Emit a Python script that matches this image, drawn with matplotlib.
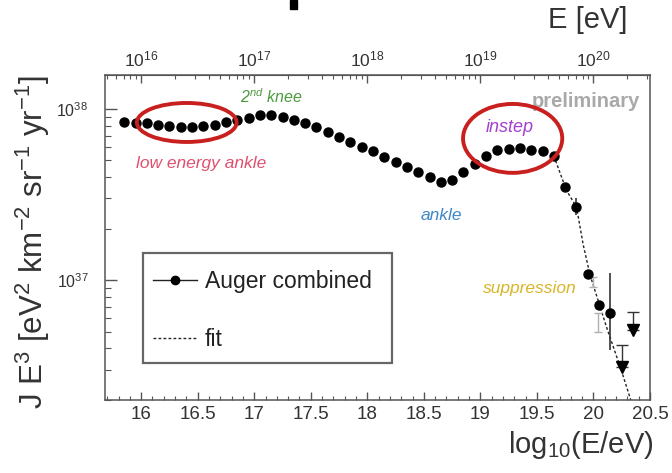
import matplotlib
matplotlib.use("Agg")
import matplotlib.pyplot as plt
import numpy as np
from matplotlib.lines import Line2D
from matplotlib.patches import Ellipse, Rectangle
from matplotlib.ticker import FixedLocator, MultipleLocator, NullFormatter

plt.rcParams['font.family'] = ['Liberation Sans', 'DejaVu Sans']
plt.rcParams['mathtext.fontset'] = 'custom'
plt.rcParams['mathtext.rm'] = 'Liberation Sans'
plt.rcParams['mathtext.it'] = 'Liberation Sans:italic'
plt.rcParams['mathtext.bf'] = 'Liberation Sans:bold'

# Auger combined spectrum: log10(E/eV) and J*E^3 [eV^2 km^-2 sr^-1 yr^-1]
log_e = [15.85, 15.95, 16.05, 16.15, 16.25, 16.35, 16.45, 16.55, 16.65, 16.75,
         16.85, 16.95, 17.05, 17.15, 17.25, 17.35, 17.45, 17.55, 17.65, 17.75,
         17.85, 17.95, 18.05, 18.15, 18.25, 18.35, 18.45, 18.55, 18.65, 18.75,
         18.85, 18.95, 19.05, 19.15, 19.25, 19.35, 19.45, 19.55, 19.65, 19.75,
         19.85, 19.95, 20.05, 20.15]
flux = [8.44e37, 8.32e37, 8.25e37, 8.06e37, 7.96e37, 7.82e37, 7.82e37, 7.96e37, 8.06e37, 8.44e37,
        8.62e37, 8.83e37, 9.23e37, 9.23e37, 8.94e37, 8.62e37, 8.25e37, 7.82e37, 7.31e37, 6.89e37,
        6.44e37, 6.02e37, 5.71e37, 5.22e37, 4.92e37, 4.56e37, 4.30e37, 3.99e37, 3.76e37, 3.85e37,
        4.30e37, 4.76e37, 5.31e37, 5.75e37, 5.81e37, 5.89e37, 5.75e37, 5.71e37, 5.31e37, 3.52e37,
        2.69e37, 1.09e37, 7.15e36, 6.38e36]

# tail points with visible error bars
err_e = [19.85, 20.15]
err_val = [2.69e37, 6.38e36]
err_lo = [2.40e37, 3.90e36]
err_hi = [3.02e37, 1.10e37]

# upper limits
lim_e = [20.25, 20.35]
lim_val = [3.11e36, 5.11e36]
lim_top = [4.17e36, 6.53e36]

# faint grey bars next to the suppression
grey_e = [20.00, 20.04]
grey_lo = [9.1e36, 4.97e36]
grey_hi = [1.04e37, 6.41e36]

# fit curve
fit_e = [19.65, 19.76, 19.85, 19.91, 19.97, 20.04, 20.11, 20.17, 20.24, 20.33]
fit_val = [5.31e37, 3.36e37, 2.67e37, 1.60e37, 1.07e37, 7.64e36, 5.45e36, 4.17e36, 3.06e36, 1.99e36]

top_ticks = [16, 17, 18, 19, 20]
top_labels = ['$10^{16}$', '$10^{17}$', '$10^{18}$', '$10^{19}$', '$10^{20}$']

fig = plt.figure(figsize=(6.72, 4.73), dpi=100)
ax = fig.add_axes([0.15625, 0.1543, 0.8110, 0.6871])

frame = '#555555'
txt = '#333333'

ax.plot(fit_e, fit_val, color='#222222', lw=1.0, ls=(0, (2, 1.6)), zorder=2)

val = np.array(err_val)
ax.errorbar(err_e, err_val, yerr=[val - np.array(err_lo), np.array(err_hi) - val],
            fmt='none', ecolor='#333333', elinewidth=1.2, zorder=3)
gl = np.array(grey_lo)
gh = np.array(grey_hi)
ax.errorbar(grey_e, (gl + gh) / 2, yerr=(gh - gl) / 2, fmt='none', ecolor='#b0b0b0',
            elinewidth=1.0, capsize=3, zorder=2)
lv = np.array(lim_val)
ax.errorbar(lim_e, lim_val, yerr=[np.zeros(2), np.array(lim_top) - lv], fmt='none',
            ecolor='#333333', elinewidth=1.0, capsize=4, zorder=3)
ax.plot(lim_e, lim_val, 'v', color='black', ms=9, zorder=4)
ax.plot(log_e, flux, 'o', color='black', ms=6.5, zorder=4)

ax.set_yscale('log')
ax.set_xlim(15.68, 20.5)
ax.set_ylim(1.99e36, 1.58e38)

ax.xaxis.set_minor_locator(MultipleLocator(0.1))
ax.set_xticks([16, 16.5, 17, 17.5, 18, 18.5, 19, 19.5, 20, 20.5])
ax.set_xticklabels(['16', '16.5', '17', '17.5', '18', '18.5', '19', '19.5', '20', '20.5'])
ax.set_yticks([1e37, 1e38])
ax.set_yticklabels(['$10^{37}$', '$10^{38}$'])
ax.yaxis.set_minor_formatter(NullFormatter())

ax.tick_params(axis='x', which='major', direction='in', length=6, width=1, color=frame,
               labelsize=13.5, labelcolor=txt, pad=4, top=False)
ax.tick_params(axis='x', which='minor', direction='in', length=3, width=0.8, color=frame, top=False)
ax.tick_params(axis='y', which='major', direction='in', length=8.5, width=1, color=frame,
               labelsize=11.5, labelcolor=txt, pad=12, right=False)
ax.tick_params(axis='y', which='minor', direction='in', length=4.3, width=0.8, color=frame, right=False)
for s in ax.spines.values():
    s.set_color(frame)
    s.set_linewidth(1.1)

top = ax.secondary_xaxis('top')
top.set_xticks(top_ticks)
top.set_xticklabels(top_labels)
minor_top = [np.log10(k) + n for n in range(15, 21) for k in range(2, 10)
             if 15.68 < np.log10(k) + n < 20.5]
top.xaxis.set_minor_locator(FixedLocator(minor_top))
top.tick_params(which='major', direction='in', length=6, width=1, color=frame,
                labelsize=12.5, labelcolor=txt, pad=4)
top.tick_params(which='minor', direction='in', length=3, width=0.8, color=frame)
top.spines['top'].set_color(frame)

fig.text(628 / 672, 1 - 20 / 473, 'E [eV]', fontsize=21, color=txt, ha='right', va='center')
fig.text(653 / 672, 1 - 445 / 473, 'log$_{10}$(E/eV)', fontsize=21, color=txt, ha='right', va='center')
fig.text(33 / 672, 1 - 242 / 473, 'J E$^{3}$ [eV$^{2}$ km$^{-2}$ sr$^{-1}$ yr$^{-1}$]',
         fontsize=22.5, color=txt, rotation=90, ha='center', va='center')

# cropped title remnant at the top edge
fig.patches.append(Rectangle((290 / 672, 1 - 9 / 473), 7 / 672, 9 / 473,
                             transform=fig.transFigure, color='black'))

ax.text(0.306, 0.932, '2$^{nd}$ knee', transform=ax.transAxes, fontsize=11.5,
        style='italic', color='#4d9a3f', ha='center', va='center')
ax.text(0.176, 0.729, 'low energy ankle', transform=ax.transAxes, fontsize=12.5,
        style='italic', color='#e0506e', ha='center', va='center')
ax.text(0.617, 0.569, 'ankle', transform=ax.transAxes, fontsize=12.5,
        style='italic', color='#3f86c6', ha='center', va='center')
ax.text(0.743, 0.840, 'instep', transform=ax.transAxes, fontsize=13,
        style='italic', color='#a43fd0', ha='center', va='center')
ax.text(0.780, 0.342, 'suppression', transform=ax.transAxes, fontsize=12.5,
        style='italic', color='#d9b52a', ha='center', va='center')
ax.text(0.982, 0.920, 'preliminary', transform=ax.transAxes, fontsize=14.5,
        fontweight='bold', color='#a9a9a9', ha='right', va='center')

ax.add_patch(Ellipse((0.150, 0.854), 0.183, 0.120, transform=ax.transAxes,
                     fill=False, edgecolor='#c8201e', lw=2.8, zorder=5))
ax.add_patch(Ellipse((0.748, 0.805), 0.182, 0.212, transform=ax.transAxes,
                     fill=False, edgecolor='#c8201e', lw=2.8, zorder=5))

# legend frame drawn separately so its size matches the original box
ax.add_patch(Rectangle((0.070, 0.114), 0.457, 0.338, transform=ax.transAxes,
                       facecolor='white', edgecolor='#666666', lw=1.6, zorder=6))
h1 = Line2D([], [], color='#222222', lw=1.0, marker='o', ms=6, mfc='black', mec='black')
h2 = Line2D([], [], color='#222222', lw=1.0, ls=(0, (2, 1.6)))
leg = ax.legend([h1, h2], ['Auger combined', 'fit'], loc='center left',
                bbox_to_anchor=(0.088, 0.275), fontsize=16.5, frameon=False,
                borderpad=0, labelspacing=1.53, handlelength=1.9,
                handletextpad=0.35, borderaxespad=0)
leg.set_zorder(7)
for t in leg.get_texts():
    t.set_color('#222222')

fig.savefig('out.png', dpi=100)
